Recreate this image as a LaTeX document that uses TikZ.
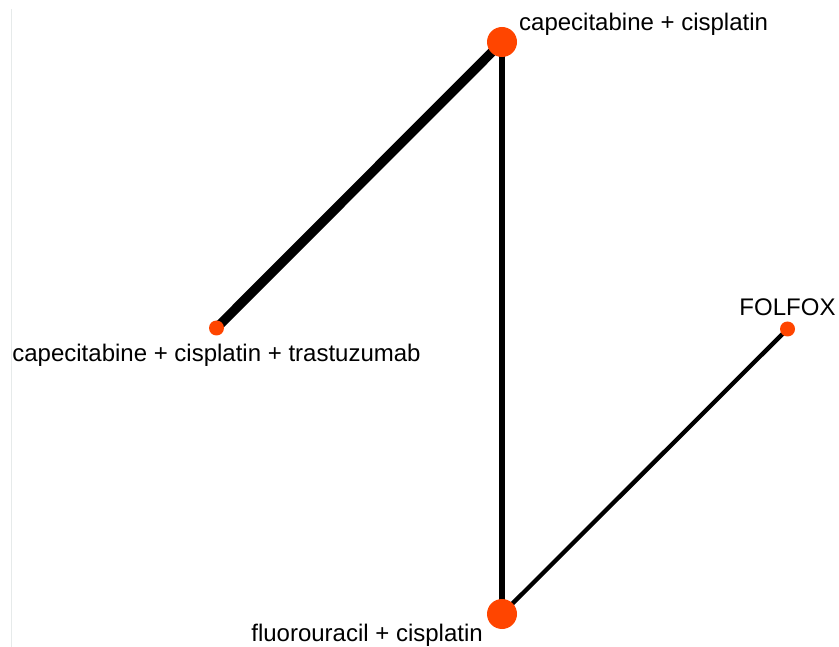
\documentclass[tikz,border=0pt]{standalone}
\usepackage{fontspec}
\setmainfont{Liberation Sans}
\usetikzlibrary{positioning}
\definecolor{trtred}{HTML}{FF4500}
\definecolor{framegray}{HTML}{E6EAEA}
\tikzset{
  trt/.style={circle, fill=trtred, draw=none, inner sep=0pt},
  bigtrt/.style={trt, minimum size=30pt},
  smalltrt/.style={trt, minimum size=15pt},
  lab/.style={font=\fontsize{24}{28}\selectfont, inner sep=0pt, text=black},
  link/.style={line width=#1, color=black},
}
\begin{document}
\begin{tikzpicture}[x=1pt,y=-1pt]
  \useasboundingbox (0,0) rectangle (839,647);
  \draw[framegray, line width=1pt] (11,9) -- (11,647);
  % edges first, nodes on top
  \coordinate (cc) at (502,42);
  \coordinate (cct) at (216.5,328);
  \coordinate (fox) at (787.5,329);
  \coordinate (fc) at (502,614);
  \draw[link=9.5pt] (cc) -- (cct);
  \draw[link=6.5pt] (cc) -- (fc);
  \draw[link=4.3pt] (fc) -- (fox);
  \node[bigtrt] (capcis) at (cc) {};
  \node[smalltrt] (capcistra) at (cct) {};
  \node[smalltrt] (folfox) at (fox) {};
  \node[bigtrt] (flucis) at (fc) {};
  % labels
  \node[lab, anchor=base west] (lcapcis) at (519,31) {capecitabine + cisplatin};
  \node[lab, anchor=base] (lcapcistra) at (216.5,362) {capecitabine + cisplatin + trastuzumab};
  \node[lab, anchor=base] (lfolfox) at (787.5,316) {FOLFOX};
  \node[lab, anchor=base east] (lflucis) at (483,641) {fluorouracil + cisplatin};
\end{tikzpicture}
\end{document}
